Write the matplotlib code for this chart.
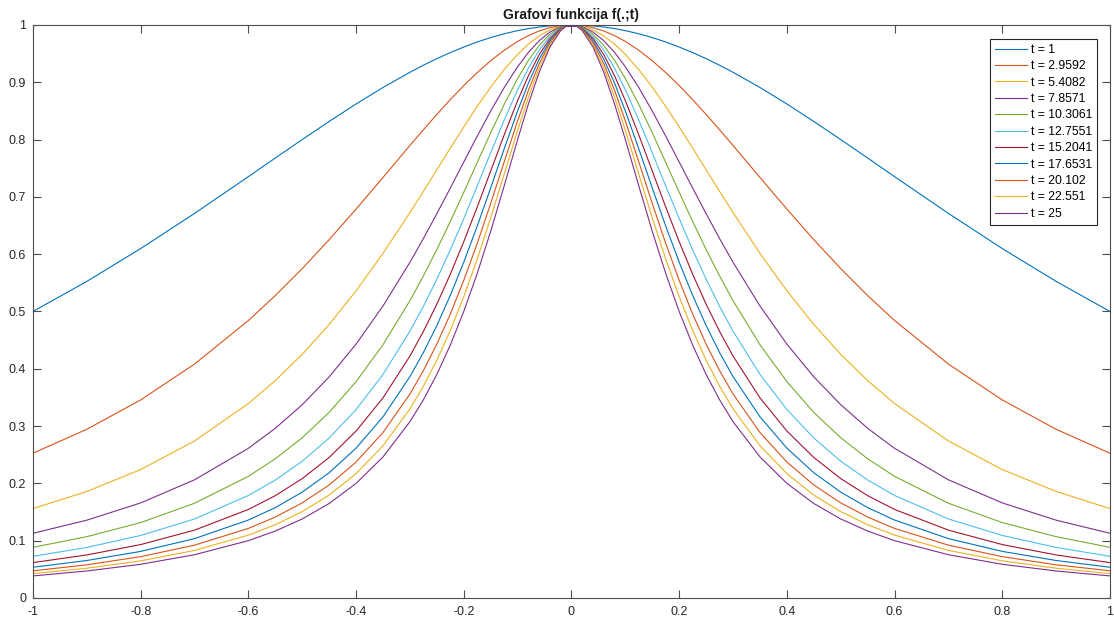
import matplotlib

matplotlib.use("Agg")
import matplotlib.pyplot as plt
import numpy as np

plt.rcParams["font.family"] = ["Liberation Sans", "DejaVu Sans"]

# MATLAB default line colors
COLORS = ["#0072BD", "#D95319", "#EDB120", "#7E2F8E", "#77AC30", "#4DBEEE", "#A2142F"]

t_values = [1, 2.9592, 5.4082, 7.8571, 10.3061, 12.7551, 15.2041, 17.6531, 20.102, 22.551, 25]
labels = ["t = 1", "t = 2.9592", "t = 5.4082", "t = 7.8571", "t = 10.3061", "t = 12.7551",
          "t = 15.2041", "t = 17.6531", "t = 20.102", "t = 22.551", "t = 25"]

# x positions on the right half (curves are symmetric about x = 0)
x_half = [0.01, 0.02, 0.04, 0.06, 0.08, 0.1, 0.125, 0.15, 0.175, 0.2, 0.225, 0.25, 0.275,
          0.3, 0.35, 0.4, 0.45, 0.5, 0.55, 0.6, 0.7, 0.8, 0.9, 1.0]

# values at x_half, one list per t
f_t1 = [0.9999, 0.9996, 0.9984, 0.9964, 0.9936, 0.9901, 0.9846, 0.9780, 0.9703, 0.9615, 0.9518, 0.9412, 0.9297,
        0.9174, 0.8909, 0.8621, 0.8316, 0.8000, 0.7678, 0.7353, 0.6711, 0.6098, 0.5525, 0.5000]
f_t2 = [0.9997, 0.9988, 0.9953, 0.9895, 0.9814, 0.9713, 0.9558, 0.9376, 0.9169, 0.8942, 0.8697, 0.8439, 0.8171,
        0.7897, 0.7339, 0.6787, 0.6253, 0.5748, 0.5277, 0.4842, 0.4082, 0.3456, 0.2944, 0.2526]
f_t3 = [0.9995, 0.9978, 0.9914, 0.9809, 0.9665, 0.9487, 0.9221, 0.8915, 0.8579, 0.8221, 0.7851, 0.7474, 0.7097,
        0.6726, 0.6015, 0.5361, 0.4773, 0.4252, 0.3794, 0.3393, 0.2740, 0.2241, 0.1859, 0.1560]
f_t4 = [0.9992, 0.9969, 0.9876, 0.9725, 0.9521, 0.9271, 0.8907, 0.8498, 0.8060, 0.7609, 0.7154, 0.6707, 0.6273,
        0.5858, 0.5096, 0.4430, 0.3859, 0.3373, 0.2961, 0.2612, 0.2062, 0.1659, 0.1358, 0.1129]
f_t5 = [0.9990, 0.9959, 0.9838, 0.9642, 0.9381, 0.9066, 0.8613, 0.8118, 0.7601, 0.7081, 0.6571, 0.6082, 0.5620,
        0.5188, 0.4420, 0.3775, 0.3239, 0.2796, 0.2429, 0.2123, 0.1653, 0.1316, 0.1070, 0.0884]
f_t6 = [0.9987, 0.9949, 0.9800, 0.9561, 0.9245, 0.8869, 0.8338, 0.7770, 0.7191, 0.6622, 0.6076, 0.5564, 0.5090,
        0.4656, 0.3902, 0.3289, 0.2791, 0.2387, 0.2058, 0.1789, 0.1379, 0.1091, 0.0882, 0.0727]
f_t7 = [0.9985, 0.9940, 0.9763, 0.9481, 0.9113, 0.8680, 0.8081, 0.7451, 0.6823, 0.6218, 0.5651, 0.5128, 0.4652,
        0.4222, 0.3493, 0.2913, 0.2452, 0.2083, 0.1786, 0.1545, 0.1184, 0.0932, 0.0751, 0.0617]
f_t8 = [0.9982, 0.9930, 0.9725, 0.9402, 0.8985, 0.8500, 0.7838, 0.7157, 0.6491, 0.5861, 0.5281, 0.4754, 0.4283,
        0.3863, 0.3162, 0.2615, 0.2186, 0.1847, 0.1577, 0.1360, 0.1036, 0.0813, 0.0654, 0.0536]
f_t9 = [0.9980, 0.9920, 0.9688, 0.9325, 0.8860, 0.8326, 0.7610, 0.6886, 0.6190, 0.5543, 0.4956, 0.4432, 0.3968,
        0.3560, 0.2888, 0.2372, 0.1972, 0.1660, 0.1412, 0.1214, 0.0922, 0.0721, 0.0579, 0.0474]
f_t10 = [0.9978, 0.9911, 0.9652, 0.9249, 0.8739, 0.8160, 0.7395, 0.6634, 0.5915, 0.5258, 0.4669, 0.4150, 0.3696,
         0.3301, 0.2658, 0.2170, 0.1796, 0.1507, 0.1278, 0.1097, 0.0830, 0.0648, 0.0519, 0.0425]
f_t11 = [0.9975, 0.9901, 0.9615, 0.9174, 0.8621, 0.8000, 0.7191, 0.6400, 0.5664, 0.5000, 0.4414, 0.3902, 0.3459,
         0.3077, 0.2462, 0.2000, 0.1649, 0.1379, 0.1168, 0.1000, 0.0755, 0.0588, 0.0471, 0.0385]

series = [f_t1, f_t2, f_t3, f_t4, f_t5, f_t6, f_t7, f_t8, f_t9, f_t10, f_t11]

AXIS_COLOR = "#4d4d4d"

fig = plt.figure(figsize=(11.14, 6.24), dpi=100)
ax = fig.add_axes([0.0296, 0.0417, 0.9668, 0.9183])

xh = np.array(x_half)
x_full = np.concatenate([-xh[::-1], xh])
for i, vals in enumerate(series):
    v = np.array(vals)
    y_full = np.concatenate([v[::-1], v])
    ax.plot(x_full, y_full, color=COLORS[i % len(COLORS)], lw=0.8, label=labels[i])

ax.set_xlim(-1, 1)
ax.set_ylim(0, 1)
ax.set_xticks(np.arange(-1, 1.01, 0.2))
ax.set_xticklabels(["-1", "-0.8", "-0.6", "-0.4", "-0.2", "0", "0.2", "0.4", "0.6", "0.8", "1"])
ax.set_yticks(np.arange(0, 1.01, 0.1))
ax.set_yticklabels(["0", "0.1", "0.2", "0.3", "0.4", "0.5", "0.6", "0.7", "0.8", "0.9", "1"])
ax.tick_params(direction="in", top=True, right=True, length=6, width=0.8,
               color=AXIS_COLOR, labelsize=9, labelcolor="#262626")
ax.tick_params(axis="x", pad=6)
ax.tick_params(axis="y", pad=5)
for s in ax.spines.values():
    s.set_color(AXIS_COLOR)
    s.set_linewidth(0.8)

ax.set_title("Grafovi funkcija f(.;t)", fontsize=10, fontweight="bold", pad=4, color="#1a1a1a")

leg = ax.legend(loc="upper right", bbox_to_anchor=(0.9847, 0.9375),
                bbox_transform=fig.transFigure, borderaxespad=0, fontsize=8.8,
                fancybox=False, framealpha=1, edgecolor="#262626",
                handlelength=2.6, handletextpad=0.3, labelspacing=0.36, borderpad=0.4)
leg.get_frame().set_linewidth(0.8)

fig.savefig("out.png", dpi=100)
